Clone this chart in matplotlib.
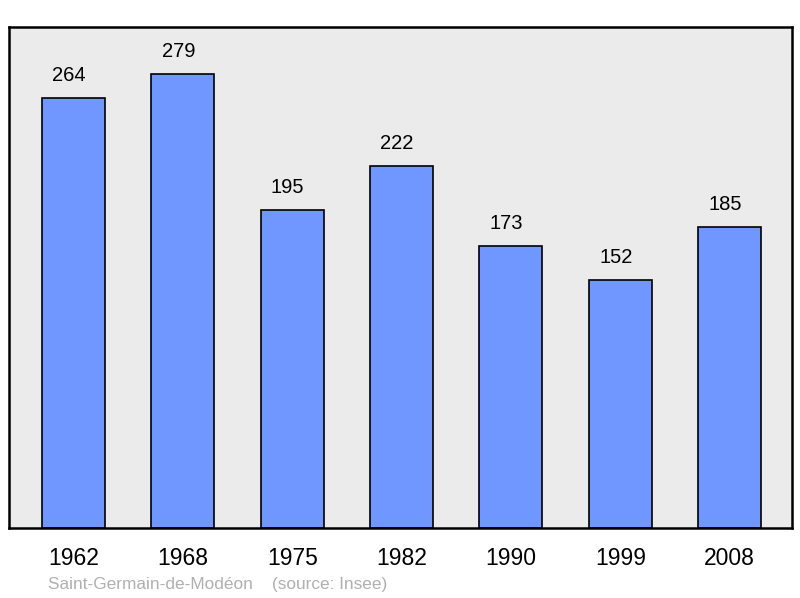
import matplotlib.pyplot as plt
from matplotlib.transforms import ScaledTranslation

years = ["1962", "1968", "1975", "1982", "1990", "1999", "2008"]
population = [264, 279, 195, 222, 173, 152, 185]
commune = "Saint-Germain-de-Modéon"
source = "(source: Insee)"

plt.rcParams["font.family"] = ["Liberation Sans", "DejaVu Sans"]

fig = plt.figure(figsize=(8, 5.98), dpi=100)
ax = fig.add_axes([9 / 800, 1 - 528 / 598, 783 / 800, 501 / 598])
ax.set_facecolor("#ebebeb")

x = range(len(years))
ax.bar(x, population, width=0.576, color="#7096ff",
       edgecolor="black", linewidth=1.2, zorder=2)
# labels sit a little left of the bar centre in the original
shift = ScaledTranslation(-4.5 / 100, 0, fig.dpi_scale_trans)
for xi, v in zip(x, population):
    ax.text(xi, v + 8, str(v), ha="center", va="bottom", fontsize=14.5,
            transform=ax.transData + shift)

ax.set_xlim(-0.59, 6.57)
ax.set_ylim(0, 307.6)
ax.set_xticks(list(x))
ax.set_xticklabels(years, fontsize=16.5)
ax.tick_params(axis="x", length=0, pad=14)
ax.set_yticks([])
for s in ax.spines.values():
    s.set_linewidth(1.8)

fig.text(48 / 800, 1 - 584 / 598, commune + "    " + source,
         color="#b0b0b0", fontsize=12.4, va="center", ha="left")

fig.savefig("out.png", dpi=100)
